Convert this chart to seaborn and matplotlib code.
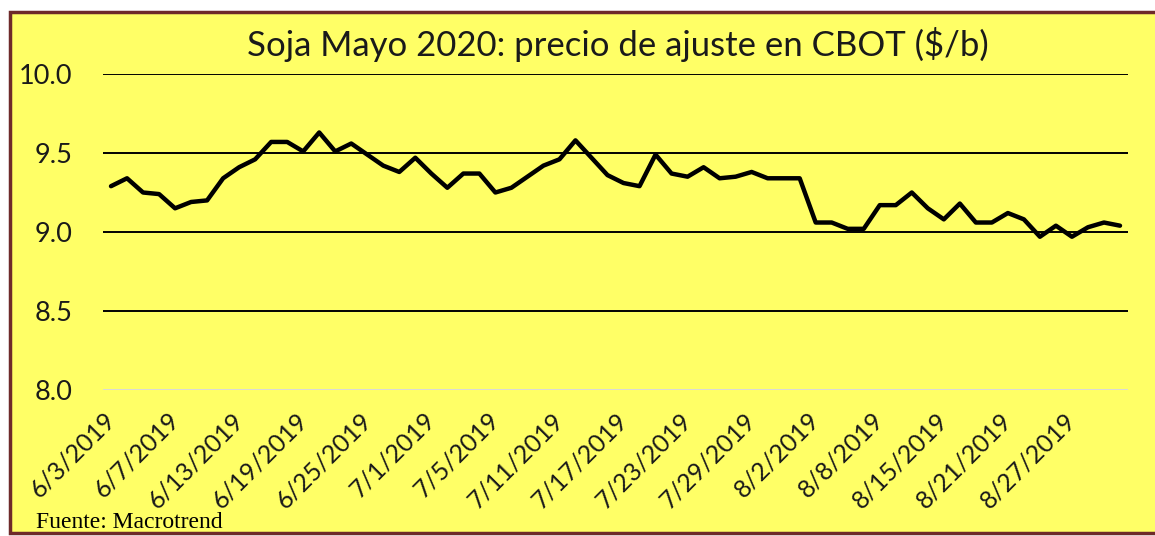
import pandas as pd
import matplotlib.pyplot as plt
import seaborn as sns
from matplotlib.patches import Rectangle
from matplotlib.transforms import ScaledTranslation

# settlement prices, one per trading day
prices = [9.29, 9.34, 9.25, 9.24, 9.15, 9.19, 9.20, 9.34, 9.41, 9.46,
          9.57, 9.57, 9.51, 9.63, 9.51, 9.56, 9.49, 9.42, 9.38, 9.47,
          9.37, 9.28, 9.37, 9.37, 9.25, 9.28, 9.35, 9.42, 9.46, 9.58,
          9.47, 9.36, 9.31, 9.29, 9.49, 9.37, 9.35, 9.41, 9.34, 9.35,
          9.38, 9.34, 9.34, 9.34, 9.06, 9.06, 9.02, 9.02, 9.17, 9.17,
          9.25, 9.15, 9.08, 9.18, 9.06, 9.06, 9.12, 9.08, 8.97, 9.04,
          8.97, 9.03, 9.06, 9.04]
tick_labels = ["6/3/2019", "6/7/2019", "6/13/2019", "6/19/2019", "6/25/2019",
               "7/1/2019", "7/5/2019", "7/11/2019", "7/17/2019", "7/23/2019",
               "7/29/2019", "8/2/2019", "8/8/2019", "8/15/2019", "8/21/2019",
               "8/27/2019"]
tick_step = 4
y_ticks = [8.0, 8.5, 9.0, 9.5, 10.0]

title = "Soja Mayo 2020: precio de ajuste en CBOT ($/b)"
source = "Fuente: Macrotrend"

yellow = "#FFFF66"

sns.set_theme(style="white")
plt.rcParams['font.family'] = ['Lato', 'DejaVu Sans']

W, H = 1155, 536
fig = plt.figure(figsize=(W / 100, H / 100), dpi=100, facecolor="white")
fig.patches.append(Rectangle((10 / W, 3 / H), 1.0, (H - 15) / H,
                             transform=fig.transFigure, facecolor=yellow,
                             edgecolor="#6E2A2A", lw=2.5, zorder=-5))

ax = fig.add_axes([103 / W, 1 - 390 / H, (1128 - 103) / W, (390 - 74) / H])
ax.set_facecolor("none")
ax.set_zorder(2)

df = pd.DataFrame({"idx": range(len(prices)), "price": prices})
sns.lineplot(data=df, x="idx", y="price", color="black", lw=3.2, ax=ax, zorder=3)

ax.set_xlim(-0.5, len(prices) - 0.5)
ax.set_ylim(8, 10)
for v in y_ticks:
    ax.axhline(v, color="#D9D9D9" if v == 8.0 else "black", lw=1.4, zorder=1)

ax.set_yticks(y_ticks)
ax.set_yticklabels([f"{v:.1f}" for v in y_ticks], fontsize=19.5, color="#1a1a1a")
ax.set_xticks(range(0, len(prices), tick_step)[:len(tick_labels)])
ax.set_xticklabels(tick_labels, rotation=45, ha="right", rotation_mode="anchor",
                   fontsize=18, color="#1a1a1a")
ax.tick_params(axis="y", length=0, pad=22)
ax.tick_params(axis="x", length=0, pad=13)
shift = ScaledTranslation(-8 / 100, 0, fig.dpi_scale_trans)
for lbl in ax.get_xticklabels():
    lbl.set_transform(lbl.get_transform() + shift)
ax.set_xlabel("")
ax.set_ylabel("")
for s in ax.spines.values():
    s.set_visible(False)

fig.text(618 / W, 1 - 45 / H, title, ha="center", va="center", fontsize=25, color="#1a1a1a")
fig.text(36 / W, 1 - 522 / H, source, ha="left", va="center",
         family="Liberation Serif", fontsize=17, color="black")

fig.savefig("out.png", dpi=100, facecolor=fig.get_facecolor())
